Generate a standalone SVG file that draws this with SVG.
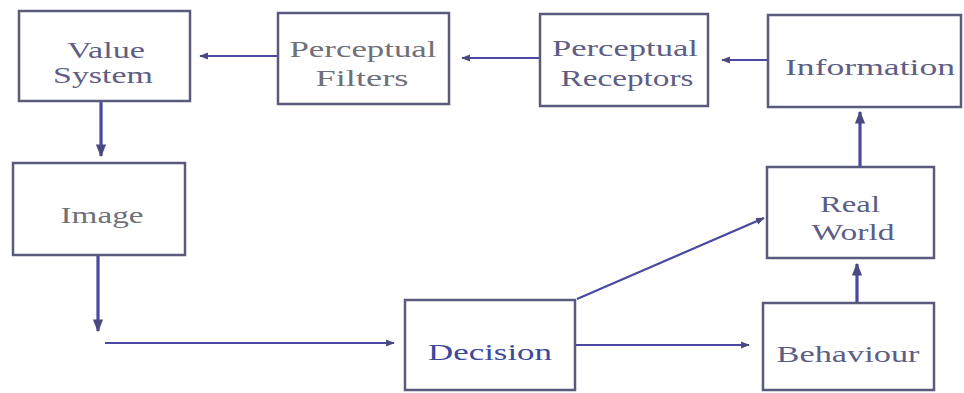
<svg xmlns="http://www.w3.org/2000/svg" width="964" height="393" viewBox="0 0 964 393">
<style>
.box{fill:#fff;stroke:#5a5a7c;stroke-width:2.5}
.t{font-size:23px;fill:#5e5e84;text-anchor:middle}
.g{fill:#707078}
.b{fill:#3c4a9c}
.c{fill:none;stroke:#4a48a0;stroke-width:2.2}
.th{stroke-width:3.2}
</style>
<defs>
<marker id="ah" viewBox="0 0 10 10" refX="9" refY="5" markerWidth="4" markerHeight="4" orient="auto" markerUnits="strokeWidth">
<path d="M0,1 L10,5 L0,9 z" fill="#4a4a80"/>
</marker>
</defs>
<rect width="964" height="393" fill="#fff"/>
<g id="connectors">
<line class="c" x1="278" y1="56" x2="200" y2="56" marker-end="url(#ah)"/>
<line class="c" x1="540" y1="58" x2="462" y2="58" marker-end="url(#ah)"/>
<line class="c" x1="768" y1="60" x2="722" y2="60" marker-end="url(#ah)"/>
<line class="c th" x1="101" y1="101" x2="101" y2="156" marker-end="url(#ah)"/>
<line class="c th" x1="98" y1="255" x2="98" y2="331" marker-end="url(#ah)"/>
<line class="c" x1="105" y1="343" x2="394" y2="343" marker-end="url(#ah)"/>
<line class="c" x1="575" y1="345" x2="749" y2="345" marker-end="url(#ah)"/>
<line class="c" x1="577" y1="299" x2="764" y2="218" marker-end="url(#ah)"/>
<line class="c th" x1="857" y1="303" x2="857" y2="264" marker-end="url(#ah)"/>
<line class="c th" x1="860" y1="167" x2="860" y2="112" marker-end="url(#ah)"/>
</g>
<g font-family="Liberation Serif, DejaVu Serif, serif">
<g id="value-system">
<rect class="box" x="19" y="11" width="171" height="90"/>
<text class="t" x="106" y="58" textLength="78" lengthAdjust="spacingAndGlyphs">Value</text>
<text class="t" x="103" y="83" textLength="100" lengthAdjust="spacingAndGlyphs">System</text>
</g>
<g id="perceptual-filters">
<rect class="box" x="278" y="13" width="171" height="91"/>
<text class="t g" x="363" y="57" textLength="147" lengthAdjust="spacingAndGlyphs">Perceptual</text>
<text class="t g" x="362" y="86" textLength="93" lengthAdjust="spacingAndGlyphs">Filters</text>
</g>
<g id="perceptual-receptors">
<rect class="box" x="540" y="14" width="168" height="92"/>
<text class="t" x="625" y="56" textLength="146" lengthAdjust="spacingAndGlyphs">Perceptual</text>
<text class="t" x="627" y="86" textLength="133" lengthAdjust="spacingAndGlyphs">Receptors</text>
</g>
<g id="information">
<rect class="box" x="768" y="15" width="193" height="92"/>
<text class="t" x="870" y="75" textLength="170" lengthAdjust="spacingAndGlyphs">Information</text>
</g>
<g id="image">
<rect class="box" x="13" y="163" width="172" height="92"/>
<text class="t g" x="102" y="223" textLength="83" lengthAdjust="spacingAndGlyphs">Image</text>
</g>
<g id="real-world">
<rect class="box" x="767" y="167" width="167" height="91"/>
<text class="t" x="850" y="212" textLength="60" lengthAdjust="spacingAndGlyphs">Real</text>
<text class="t" x="853" y="240" textLength="83" lengthAdjust="spacingAndGlyphs">World</text>
</g>
<g id="decision">
<rect class="box" x="405" y="300" width="170" height="90"/>
<text class="t b" x="490" y="360" textLength="124" lengthAdjust="spacingAndGlyphs">Decision</text>
</g>
<g id="behaviour">
<rect class="box" x="763" y="303" width="171" height="87"/>
<text class="t" x="848" y="362" textLength="143" lengthAdjust="spacingAndGlyphs">Behaviour</text>
</g>
</g>
</svg>
